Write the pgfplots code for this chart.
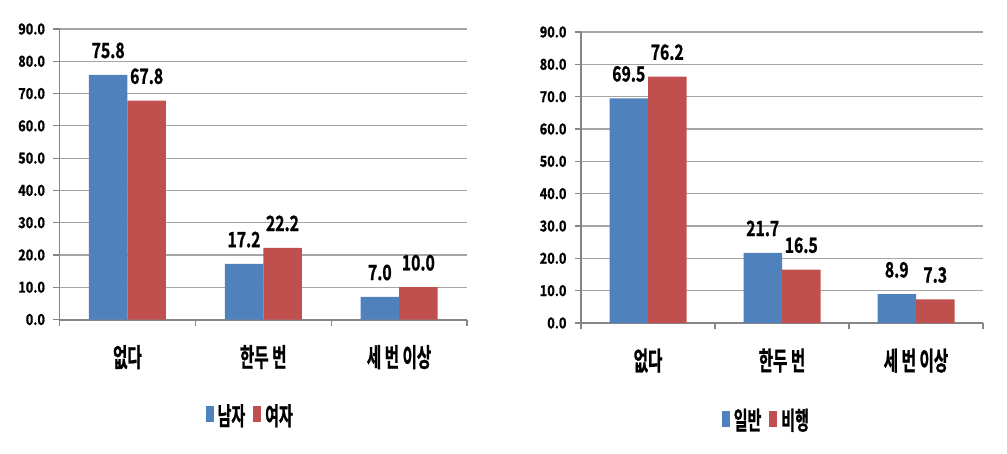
\documentclass[border=0pt]{standalone}
\usepackage{fontspec}
\usepackage{pgfplots}
\pgfplotsset{compat=1.18}
\setmainfont{Noto Sans CJK KR Bold}
\newfontfamily\kr[FakeStretch=0.6,FakeBold=1]{Noto Sans CJK KR Bold}
\newfontfamily\num[FakeStretch=0.75,FakeBold=1]{Noto Sans CJK KR Bold}
\newfontfamily\tnum[FakeStretch=0.85,FakeBold=1]{Noto Sans CJK KR Bold}
\definecolor{cblue}{RGB}{79,129,189}
\definecolor{cred}{RGB}{192,80,77}
\definecolor{cgrid}{RGB}{165,165,165}
\definecolor{caxis}{RGB}{134,134,134}
\pgfplotsset{
  mybar/.style={
    scale only axis,
    ybar=0pt, bar width=38.5pt,
    xmin=-0.5, xmax=2.5, ymin=0, ymax=90,
    ytick={0,10,20,30,40,50,60,70,80,90},
    yticklabels={0.0,10.0,20.0,30.0,40.0,50.0,60.0,70.0,80.0,90.0},
    yticklabel style={font=\tnum\fontsize{15}{15}\selectfont, xshift=-5pt},
    xtick={-0.5,0.5,1.5,2.5},
    xticklabels={,,,},
    extra x ticks={0,1,2},
    extra x tick style={major tick length=0pt, grid=none,
      tick label style={font=\kr\fontsize{26}{26}\selectfont, yshift=-22pt}},
    ymajorgrids,
    grid style={cgrid, line width=1.2pt},
    axis lines*=left,
    axis line style={caxis, line width=1.2pt},
    x axis line style={line width=2pt},
    tick align=outside,
    major tick length=6pt,
    tick style={caxis, line width=1.2pt},
    nodes near coords={\pgfmathprintnumber[fixed,fixed zerofill,precision=1,assume math mode=true]{\pgfplotspointmeta}},
    nodes near coords style={font=\num\fontsize{21}{21}\selectfont, yshift=13pt, text=black},
    legend columns=2,
    legend style={draw=none, fill=none, font=\kr\fontsize{25}{25}\selectfont,
      /tikz/every even column/.append style={column sep=6pt},
      /tikz/every odd column/.append style={column sep=2pt}},
    legend image code/.code={\fill[##1] (0pt,-7pt) rectangle (8pt,9pt);},
    clip=false,
  }
}
\begin{document}
\begin{tikzpicture}[x=1pt,y=1pt]
\useasboundingbox (0,0) rectangle (1007,453);
\begin{axis}[mybar, at={(59.5pt,133.5pt)}, anchor=south west,
  width=407.5pt, height=290.5pt,
  extra x tick labels={없다,한두 번,세 번 이상},
  legend style={at={(0.468,-0.33)}, anchor=center}]
\addplot[fill=cblue, draw=none] coordinates {(0,75.8) (1,17.2) (2,7.0)};
\addplot[fill=cred, draw=none] coordinates {(0,67.8) (1,22.2) (2,10.0)};
\legend{남자,여자}
\end{axis}
\begin{axis}[mybar, at={(581pt,130pt)}, anchor=south west,
  width=402pt, height=291pt,
  extra x tick labels={없다,한두 번,세 번 이상},
  legend style={at={(0.461,-0.333)}, anchor=center}]
\addplot[fill=cblue, draw=none] coordinates {(0,69.5) (1,21.7) (2,8.9)};
\addplot[fill=cred, draw=none] coordinates {(0,76.2) (1,16.5) (2,7.3)};
\legend{일반,비행}
\end{axis}
\end{tikzpicture}
\end{document}
